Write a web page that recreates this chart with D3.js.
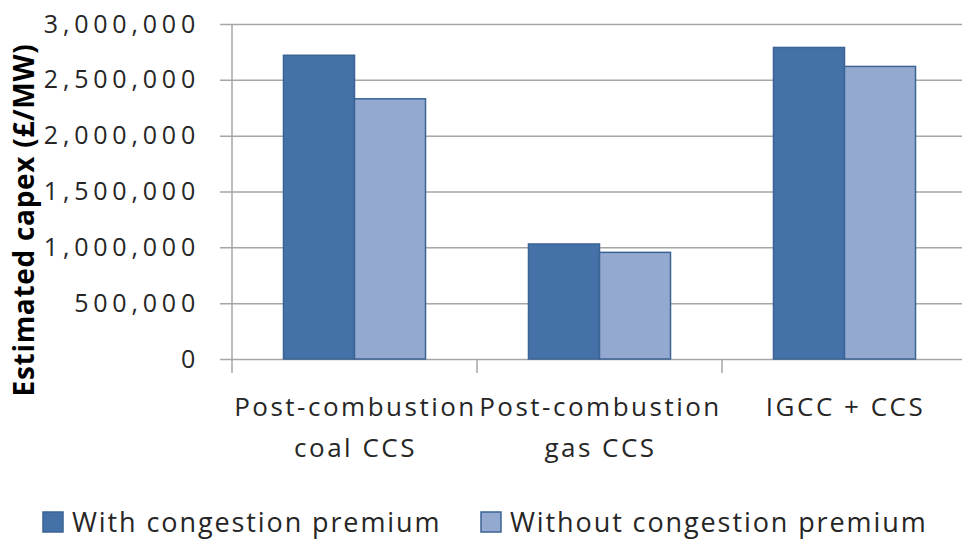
<!DOCTYPE html>
<html>
<head>
<meta charset="utf-8">
<script src="https://cdn.jsdelivr.net/npm/d3@7"></script>
<style>
  body { margin: 0; background: #fff; }
  text { font-family: "Open Sans", sans-serif; fill: #262626; }
</style>
</head>
<body>
<div id="chart"></div>
<script>
// Chart data
const categories = ['Post-combustion coal CCS', 'Post-combustion gas CCS', 'IGCC + CCS'];
const categoryLines = [['Post-combustion', 'coal CCS'], ['Post-combustion', 'gas CCS'], ['IGCC + CCS']];
const seriesNames = ['With congestion premium', 'Without congestion premium'];
const withPremium = [2720000, 1030000, 2790000];
const withoutPremium = [2330000, 955000, 2620000];
const yTicks = [0, 500000, 1000000, 1500000, 2000000, 2500000, 3000000];
const colors = ['#4472a8', '#93a9d0'];

const width = 962, height = 540;
const margin = { top: 24, right: -5, bottom: 181, left: 232 };
const plotW = width - margin.left - margin.right;
const plotH = height - margin.top - margin.bottom;

const svg = d3.select('#chart')
    .append('svg')
    .attr('width', width)
    .attr('height', height);

const g = svg.append('g')
    .attr('transform', `translate(${margin.left},${margin.top})`);

// Scales
const xScale = d3.scaleBand()
    .domain(categories)
    .range([0, plotW])
    .padding(0);

const xSub = d3.scaleBand()
    .domain(seriesNames)
    .range([0, xScale.bandwidth()])
    .paddingInner(0)
    .paddingOuter(0.725);

const yScale = d3.scaleLinear()
    .domain([0, 3000000])
    .range([plotH, 0]);

// Gridlines + y axis
const yAxis = g.append('g')
    .attr('class', 'y-axis')
    .call(d3.axisLeft(yScale)
        .tickValues(yTicks)
        .tickSize(-plotW - 12)
        .tickPadding(25)
        .tickFormat(d3.format(',')));
yAxis.select('.domain').remove();
yAxis.selectAll('.tick line')
    .attr('x1', -12)
    .attr('x2', plotW)
    .attr('stroke', '#a6a6a6')
    .attr('stroke-width', 1.5);
yAxis.selectAll('.tick text')
    .attr('x', -32)
    .style('font-size', '25px')
    .style('letter-spacing', '4.8px')
    .style('fill', '#262626');

// vertical axis line
g.append('line')
    .attr('x1', 0).attr('x2', 0)
    .attr('y1', 0).attr('y2', plotH)
    .attr('stroke', '#a6a6a6')
    .attr('stroke-width', 1.5);

// x axis category boundaries
const xAxis = g.append('g')
    .attr('class', 'x-axis')
    .attr('transform', `translate(0,${plotH})`);
xAxis.selectAll('line.boundary')
    .data(categories)
    .enter()
    .append('line')
    .attr('class', 'boundary')
    .attr('x1', d => xScale(d))
    .attr('x2', d => xScale(d))
    .attr('y1', 0)
    .attr('y2', 14)
    .attr('stroke', '#a6a6a6')
    .attr('stroke-width', 1.5);

xAxis.selectAll('text.cat')
    .data(categories)
    .enter()
    .append('text')
    .attr('class', 'cat')
    .attr('text-anchor', 'middle')
    .style('font-size', '26px')
    .style('letter-spacing', '2.5px')
    .each(function (d, i) {
        const t = d3.select(this);
        categoryLines[i].forEach((line, j) => {
            t.append('tspan')
                .attr('x', xScale(d) + xScale.bandwidth() / 2 + 1)
                .attr('y', 57 + j * 41)
                .text(line);
        });
    });

// Bars
const rows = categories.map((c, i) => ({ cat: c, values: [withPremium[i], withoutPremium[i]] }));

const groups = g.selectAll('g.group')
    .data(rows)
    .enter()
    .append('g')
    .attr('class', 'group')
    .attr('transform', d => `translate(${xScale(d.cat)},0)`);

groups.selectAll('rect')
    .data(d => d.values.map((v, k) => ({ series: seriesNames[k], value: v, k })))
    .enter()
    .append('rect')
    .attr('x', d => xSub(d.series))
    .attr('y', d => yScale(d.value))
    .attr('width', xSub.bandwidth())
    .attr('height', d => plotH - yScale(d.value))
    .attr('fill', d => colors[d.k])
    .attr('stroke', '#3b6394')
    .attr('stroke-width', 1.5);

// Y label
svg.append('text')
    .attr('text-anchor', 'middle')
    .attr('transform', 'translate(34, 220) rotate(-90)')
    .style('font-size', '28px')
    .style('font-weight', 'bold')
    .style('letter-spacing', '0.7px')
    .style('fill', '#000')
    .text('Estimated capex (£/MW)');

// Legend
const legendX = [43, 481];
const legend = svg.selectAll('g.legend')
    .data(seriesNames)
    .enter()
    .append('g')
    .attr('class', 'legend')
    .attr('transform', (d, i) => `translate(${legendX[i]},512)`);

legend.append('rect')
    .attr('width', 20)
    .attr('height', 20)
    .attr('fill', (d, i) => colors[i])
    .attr('stroke', '#3b6394')
    .attr('stroke-width', 1.5);

legend.append('text')
    .attr('x', 29)
    .attr('y', 20)
    .style('font-size', '27px')
    .style('letter-spacing', '1.9px')
    .text(d => d);
</script>
</body>
</html>
